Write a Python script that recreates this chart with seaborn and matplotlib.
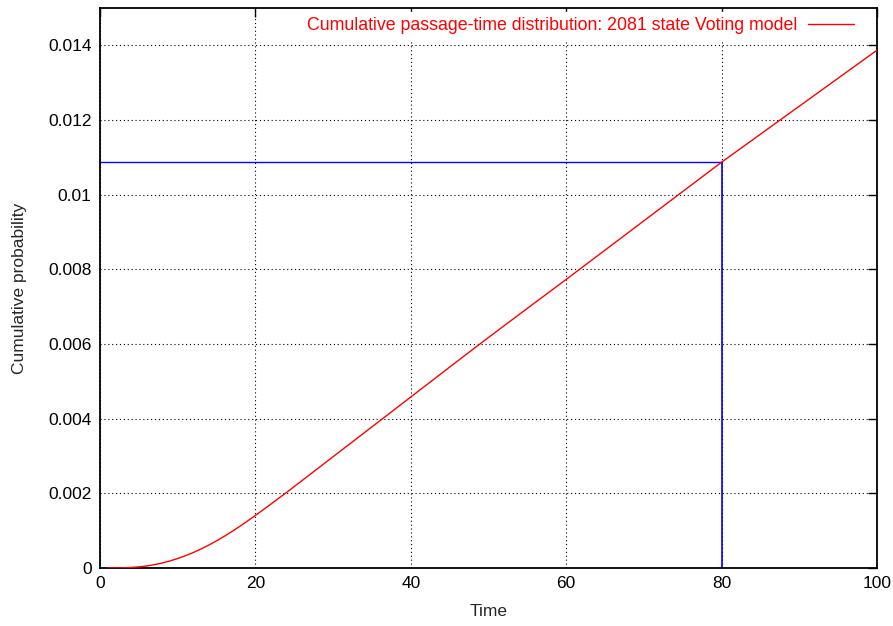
import matplotlib
matplotlib.use("Agg")
import matplotlib.pyplot as plt
import seaborn as sns
import pandas as pd

# Data
time = [1, 2, 3, 4, 5, 6, 7, 8, 9, 10, 11, 12, 13, 14, 15, 16, 17, 18, 19, 20, 22, 24, 26, 28, 30,
        32, 34, 36, 38, 40, 42, 44, 46, 48, 50, 55, 60, 65, 70, 75, 80, 85, 90, 95, 100]
cum_prob = [0.0, 0.000002, 0.000006, 0.000014, 0.000029, 0.000054, 0.000089, 0.000134, 0.000189,
            0.000254, 0.000329, 0.000414, 0.000509, 0.000614, 0.000728, 0.00085, 0.00098, 0.001117,
            0.00126, 0.001408, 0.001713, 0.002023, 0.002341, 0.002661, 0.002981, 0.003301, 0.003621,
            0.003941, 0.004261, 0.004581, 0.004901, 0.005221, 0.005541, 0.005859, 0.006175,
            0.006955, 0.00773, 0.008515, 0.0093, 0.010085, 0.01087, 0.01162, 0.01237, 0.01312,
            0.01387]
marker_time = 80
marker_prob = 0.01087
xticks = [0, 20, 40, 60, 80, 100]
yticks = [0, 0.002, 0.004, 0.006, 0.008, 0.010, 0.012, 0.014]
ytick_labels = ["0", "0.002", "0.004", "0.006", "0.008", "0.01", "0.012", "0.014"]
legend_label = "Cumulative passage-time distribution: 2081 state Voting model"

sns.set_style("white")
plt.rcParams["font.family"] = ["Liberation Sans", "DejaVu Sans"]

fig = plt.figure(figsize=(8.93, 6.26), dpi=100)
ax = fig.add_axes([100 / 893, 58 / 626, 777 / 893, 560 / 626])

df = pd.DataFrame({"Time": time, "Cumulative probability": cum_prob})
sns.lineplot(data=df, x="Time", y="Cumulative probability", ax=ax, color="#ff0000",
             linewidth=1.0, label=legend_label, zorder=3)

# blue marker lines
ax.plot([0, marker_time], [marker_prob, marker_prob], color="#0000ff", linewidth=1.0, zorder=2)
ax.plot([marker_time, marker_time], [0, marker_prob], color="#0000ff", linewidth=1.2, zorder=2)

ax.set_xlim(0, 100)
ax.set_ylim(0, 0.015)
ax.set_xticks(xticks)
ax.set_xticklabels([str(v) for v in xticks])
ax.set_yticks(yticks)
ax.set_yticklabels(ytick_labels)

ax.grid(True, color="black", linestyle=(0, (1, 2.5)), linewidth=0.8, zorder=1)
ax.set_axisbelow(True)

ax.tick_params(direction="in", length=6.5, width=1.0, top=True, right=True,
               labelsize=12.5, pad=6, colors="black")
for s in ax.spines.values():
    s.set_linewidth(1.3)
    s.set_color("black")

ax.set_xlabel("Time", fontsize=12.5, labelpad=9)
ax.set_ylabel("Cumulative probability", fontsize=12.5, labelpad=15)

leg = ax.legend(loc="center right", bbox_to_anchor=(0.977, 0.969), markerfirst=False,
                frameon=True, fontsize=12.8, handlelength=2.6, borderaxespad=0.0,
                borderpad=0.3, handletextpad=0.6)
leg.get_frame().set_facecolor("white")
leg.get_frame().set_edgecolor("white")
leg.get_frame().set_alpha(1.0)
leg.get_frame().set_boxstyle("square", pad=0.0)
for t in leg.get_texts():
    t.set_color("#ff0000")

fig.savefig("out.png", dpi=100)
